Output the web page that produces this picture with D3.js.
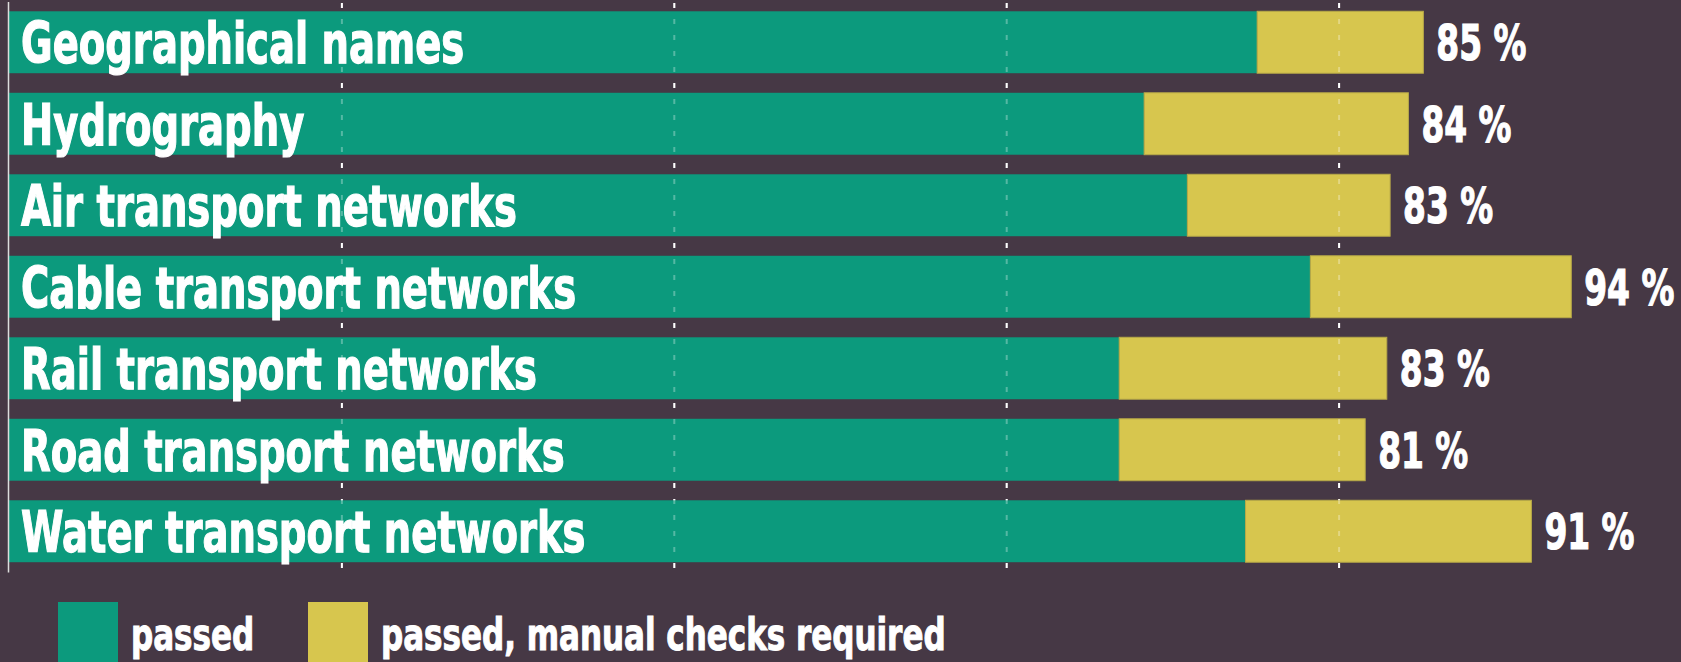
<!DOCTYPE html>
<html>
<head>
<meta charset="utf-8">
<script src="https://cdn.jsdelivr.net/npm/d3@7"></script>
<style>
  body { margin: 0; background: #463845; overflow: hidden; }
  text { font-family: "Liberation Sans Narrow", "DejaVu Sans Condensed", sans-serif; font-weight: bold; fill: #fff; }
</style>
</head>
<body>
<div id="chart-area"></div>
<script>
// Data
// ****
const categories = ["Geographical names", "Hydrography", "Air transport networks", "Cable transport networks",
  "Rail transport networks", "Road transport networks", "Water transport networks"]
const passed = [75.1, 68.3, 70.9, 78.3, 66.8, 66.8, 74.4]
const manual = [10.0, 15.9, 12.2, 15.7, 16.1, 14.8, 17.2]
const totals = [85, 84, 83, 94, 83, 81, 91]
const gridTicks = [20, 40, 60, 80]
const legendLabels = ["passed", "passed, manual checks required"]

// Config
// ******
const width = 1681, height = 662
const colors = ["#0c9a7d", "#d7c64e"]
const plotBottom = 568

// Create SVG Canvas
// *****************
const svg = d3.select("#chart-area")
  .append("svg")
    .attr("width", width)
    .attr("height", height)

svg.append("rect")
  .attr("width", width)
  .attr("height", height)
  .attr("fill", "#463845")

// Scales
const x = d3.scaleLinear().domain([0, 100]).range([9, 9 + 1662])
const y = d3.scaleBand().domain(categories).range([1.5, 572]).paddingInner(0.24).paddingOuter(0.12)

// Gridlines
// *********
function drawGrid(opacity) {
  const grid = svg.append("g")
    .attr("class", "grid")
    .attr("transform", "translate(0, " + plotBottom + ")")
    .call(d3.axisBottom(x).tickValues(gridTicks).tickSize(-plotBottom).tickFormat(""))
  grid.select(".domain").remove()
  grid.selectAll("line")
    .attr("stroke", "#fff")
    .attr("stroke-width", 2)
    .attr("stroke-dasharray", "5,11")
    .attr("opacity", opacity)
}
drawGrid(1)

// Stacked Bars
// ************
const rows = categories.map((c, i) => ({name: c, passed: passed[i], manual: manual[i], total: totals[i]}))

const barG = svg.append("g")
barG.selectAll("rect.passed").data(rows)
  .enter().append("rect")
    .attr("class", "passed")
    .attr("x", x(0))
    .attr("y", d => y(d.name))
    .attr("width", d => x(d.passed) - x(0))
    .attr("height", y.bandwidth())
    .attr("fill", colors[0])

barG.selectAll("rect.manual").data(rows)
  .enter().append("rect")
    .attr("class", "manual")
    .attr("x", d => x(d.passed))
    .attr("y", d => y(d.name))
    .attr("width", d => x(d.passed + d.manual) - x(d.passed))
    .attr("height", y.bandwidth())
    .attr("fill", colors[1])
    .attr("stroke", "#b8a948")
    .attr("stroke-width", 1)

// faint grid on top of the bars
drawGrid(0.3)

// Left Axis
const leftAxis = svg.append("g")
  .attr("transform", "translate(8, 0)")
  .call(d3.axisLeft(y).tickSize(0).tickSizeOuter(0).tickFormat(""))
leftAxis.select(".domain").attr("stroke", "#ddd").attr("stroke-width", 1.5)

// Labels
// ******
// condensed look: squeeze the text horizontally
function squeezed(sel, sx) {
  return sel.attr("transform", function() {
    const tx = +this.getAttribute("data-x"), ty = +this.getAttribute("data-y")
    return "translate(" + tx + ", " + ty + ") scale(" + sx + ", 1)"
  })
}

barG.selectAll("text.cat").data(rows)
  .enter().append("text")
    .attr("class", "cat")
    .attr("data-x", x(0) + 12)
    .attr("data-y", d => y(d.name) + y.bandwidth() / 2)
    .attr("dy", "0.37em")
    .attr("font-size", "57px")
    .attr("stroke", "#fff")
    .attr("stroke-width", 1.2)
    .text(d => d.name)
    .call(squeezed, 0.752)

barG.selectAll("text.val").data(rows)
  .enter().append("text")
    .attr("class", "val")
    .attr("data-x", d => x(d.passed + d.manual) + 13)
    .attr("data-y", d => y(d.name) + y.bandwidth() / 2)
    .attr("dy", "0.36em")
    .attr("font-size", "50px")
    .attr("stroke", "#fff")
    .attr("stroke-width", 1.2)
    .text(d => d.total + " %")
    .call(squeezed, 0.73)

// Legend
// ******
const legendX = [58, 308]
const legend = svg.append("g")
legendLabels.forEach((lab, i) => {
  legend.append("rect")
    .attr("x", legendX[i])
    .attr("y", 602)
    .attr("width", 60)
    .attr("height", 62)
    .attr("fill", colors[i])
  legend.append("text")
    .attr("data-x", legendX[i] + 73)
    .attr("data-y", 650)
    .attr("font-size", "44px")
    .attr("stroke", "#fff")
    .attr("stroke-width", 1)
    .text(lab)
    .call(squeezed, 0.783)
})
</script>
</body>
</html>
